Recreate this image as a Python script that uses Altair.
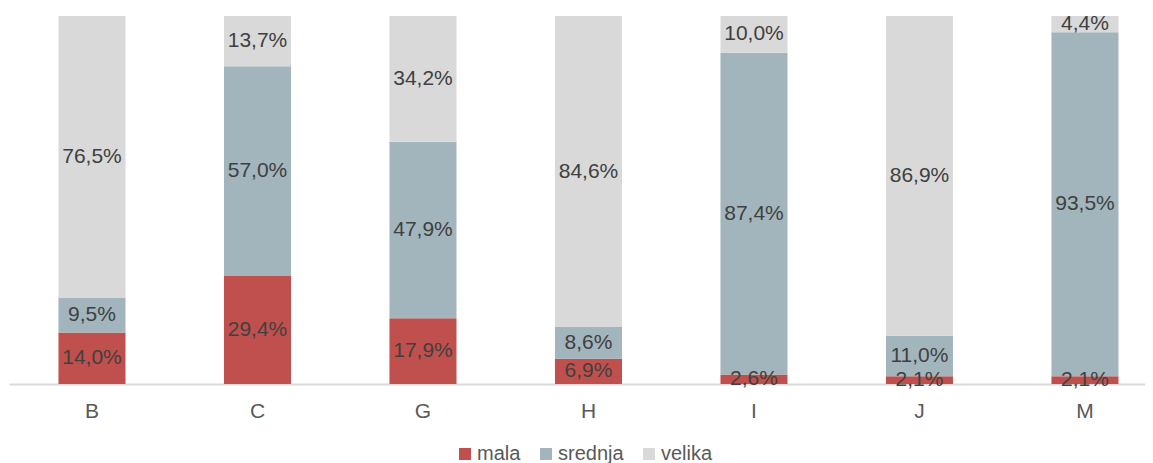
import altair as alt
import pandas as pd

categories = ["B", "C", "G", "H", "I", "J", "M"]
series = ["mala", "srednja", "velika"]
mala = [14.0, 29.4, 17.9, 6.9, 2.6, 2.1, 2.1]
srednja = [9.5, 57.0, 47.9, 8.6, 87.4, 11.0, 93.5]
velika = [76.5, 13.7, 34.2, 84.6, 10.0, 86.9, 4.4]
colors = ["#C0504D", "#A2B5BD", "#D9D9D9"]

rows = []
for i, c in enumerate(categories):
    for k, (s, vals) in enumerate(zip(series, [mala, srednja, velika])):
        v = vals[i]
        rows.append({"cat": c, "series": s, "order": k, "value": v,
                     "label": f"{v:.1f}".replace(".", ",") + "%"})
df = pd.DataFrame(rows)

base = alt.Chart(df).transform_stack(
    stack="value", groupby=["cat"], as_=["y0", "y1"],
    sort=[alt.SortField("order", order="ascending")], offset="normalize"
).transform_calculate(mid="(datum.y0 + datum.y1) / 2")

xscale = alt.Scale(paddingInner=0.595, paddingOuter=0.2296, align=0.651)

xenc = alt.X("cat:N", sort=categories, scale=xscale,
             axis=alt.Axis(title=None, labelAngle=0, ticks=False,
                           domainColor="#D9D9D9", domainWidth=2,
                           labelFont="Liberation Sans", labelFontSize=21,
                           labelColor="#595959", labelPadding=16))

bars = base.mark_bar().encode(
    x=xenc,
    y=alt.Y("y0:Q", scale=alt.Scale(domain=[0, 1]), axis=None),
    y2="y1:Q",
    color=alt.Color("series:N", sort=series,
                    scale=alt.Scale(domain=series, range=colors),
                    legend=alt.Legend(title=None, orient="none", direction="horizontal",
                                      legendX=446, legendY=428,
                                      symbolType="square", symbolSize=144,
                                      symbolStrokeWidth=0, labelOffset=2,
                                      columnPadding=15,
                                      labelFont="Liberation Sans", labelFontSize=20,
                                      labelColor="#595959")),
)

text = base.mark_text(font="Liberation Sans", fontSize=21, color="#404040",
                      baseline="middle").encode(
    x=alt.X("cat:N", sort=categories),
    y=alt.Y("mid:Q", scale=alt.Scale(domain=[0, 1]), axis=None),
    text="label:N",
)

chart = (bars + text).properties(
    width=1136, height=368,
    padding={"left": 1, "top": 5, "right": 0, "bottom": 5},
).configure_view(stroke=None).configure_axis(grid=False)

chart.save("out.html", embed_options={"renderer": "svg", "actions": False})
